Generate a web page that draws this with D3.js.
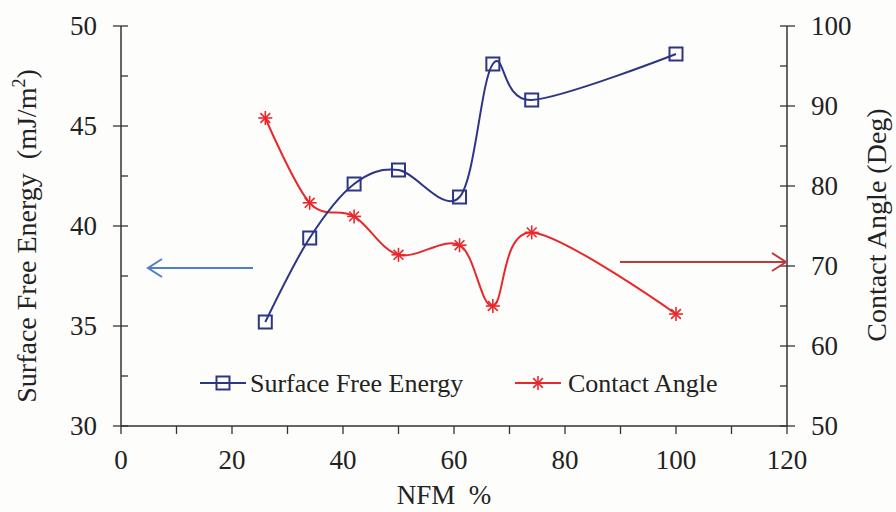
<!DOCTYPE html>
<html>
<head>
<meta charset="utf-8">
<script src="https://cdn.jsdelivr.net/npm/d3@7"></script>
<style>
  body { margin: 0; background: #fdfdfb; }
</style>
</head>
<body>
<script>
// data
var nfm = [26, 34, 42, 50, 61, 67, 74, 100];
var surfaceEnergy = [35.2, 39.4, 42.1, 42.8, 41.45, 48.1, 46.3, 48.6];
var contactAngle = [88.5, 77.9, 76.2, 71.4, 72.6, 65.0, 74.2, 64.0];
var xTicks = [0, 20, 40, 60, 80, 100, 120];
var leftTicks = [30, 35, 40, 45, 50];
var rightTicks = [50, 60, 70, 80, 90, 100];

var width = 896, height = 512;
var margin = {left: 121, right: 109, top: 26, bottom: 86};
var serif = "Liberation Serif";

var svg = d3.select("body")
	.append("svg")
	.attr("width", width)
	.attr("height", height);

svg.append("rect").attr("width", width).attr("height", height).attr("fill", "#fdfdfb");

var x = d3.scaleLinear().domain([0, 120]).range([margin.left, width - margin.right]);
var yL = d3.scaleLinear().domain([30, 50]).range([height - margin.bottom, margin.top]);
var yR = d3.scaleLinear().domain([50, 100]).range([height - margin.bottom, margin.top]);

var axisColor = "#333";
var textColor = "#222";
var x0 = x(0), x1 = x(120), yB = yL(30);

function label(px, py, size, anchor) {
	return svg.append("text").attr("x", px).attr("y", py)
		.attr("font-family", serif).attr("font-size", size)
		.attr("fill", textColor).attr("text-anchor", anchor || "start");
}

// x axis
svg.append("line").attr("x1", x0).attr("x2", x1).attr("y1", yB).attr("y2", yB)
	.attr("stroke", axisColor).attr("stroke-width", 1.5);
d3.range(0, 121, 10).forEach(function(v) {
	svg.append("line").attr("x1", x(v)).attr("x2", x(v))
		.attr("y1", yB).attr("y2", yB + 8)
		.attr("stroke", axisColor).attr("stroke-width", 1.3);
});
xTicks.forEach(function(v) {
	label(x(v), yB + 43, 27, "middle").text(v);
});

// left axis
svg.append("line").attr("x1", x0).attr("x2", x0).attr("y1", yL(50)).attr("y2", yB)
	.attr("stroke", axisColor).attr("stroke-width", 1.5);
d3.range(30, 50.1, 2.5).forEach(function(v) {
	var major = v % 5 === 0;
	svg.append("line").attr("x1", major ? x0 - 8 : x0).attr("x2", x0 + 7)
		.attr("y1", yL(v)).attr("y2", yL(v))
		.attr("stroke", axisColor).attr("stroke-width", 1.3);
});
leftTicks.forEach(function(v) {
	label(x0 - 24, yL(v) + 9, 27, "end").text(v);
});

// right axis
svg.append("line").attr("x1", x1).attr("x2", x1).attr("y1", yR(100)).attr("y2", yB)
	.attr("stroke", axisColor).attr("stroke-width", 1.5);
d3.range(50, 100.1, 5).forEach(function(v) {
	var major = v % 10 === 0;
	svg.append("line").attr("x1", x1 - 7).attr("x2", major ? x1 + 8 : x1)
		.attr("y1", yR(v)).attr("y2", yR(v))
		.attr("stroke", axisColor).attr("stroke-width", 1.3);
});
rightTicks.forEach(function(v) {
	label(x1 + 24, yR(v) + 9, 27, "start").text(v);
});

// axis titles
label(0, 0, 28, "middle").attr("transform", "translate(36,236) rotate(-90)")
	.html("Surface Free Energy&#160;&#160;(mJ/m<tspan dy='-11' font-size='18'>2</tspan><tspan dy='11'>)</tspan>");
label(0, 0, 28, "middle").attr("transform", "translate(886,225) rotate(-90)")
	.text("Contact Angle (Deg)");
label(444, 504, 27, "middle").text("NFM\u00a0\u00a0%");

// series
var sfeColor = "#2d3684", caColor = "#e8282b";
var ptsS = nfm.map(function(d, i) { return [x(d), yL(surfaceEnergy[i])]; });
var ptsC = nfm.map(function(d, i) { return [x(d), yR(contactAngle[i])]; });
var line = d3.line().curve(d3.curveCatmullRom.alpha(0));

svg.append("path").attr("d", line(ptsC)).attr("fill", "none")
	.attr("stroke", caColor).attr("stroke-width", 2);
svg.append("path").attr("d", line(ptsS)).attr("fill", "none")
	.attr("stroke", sfeColor).attr("stroke-width", 2);

function square(g, cx, cy) {
	g.append("rect").attr("x", cx - 6.5).attr("y", cy - 6.5).attr("width", 13).attr("height", 13)
		.attr("fill", "none").attr("stroke", sfeColor).attr("stroke-width", 2);
}
function star(g, cx, cy) {
	var s = 7;
	[[-s, 0, s, 0], [0, -s, 0, s], [-s * 0.7, -s * 0.7, s * 0.7, s * 0.7], [-s * 0.7, s * 0.7, s * 0.7, -s * 0.7]]
		.forEach(function(l) {
			g.append("line").attr("x1", cx + l[0]).attr("y1", cy + l[1])
				.attr("x2", cx + l[2]).attr("y2", cy + l[3])
				.attr("stroke", caColor).attr("stroke-width", 1.6);
		});
}
ptsS.forEach(function(p) { square(svg, p[0], p[1]); });
ptsC.forEach(function(p) { star(svg, p[0], p[1]); });

// legend
var ly = 383;
svg.append("line").attr("x1", 200).attr("x2", 246).attr("y1", ly).attr("y2", ly)
	.attr("stroke", sfeColor).attr("stroke-width", 2);
square(svg, 223, ly);
label(250, ly + 9, 26).text("Surface Free Energy");
svg.append("line").attr("x1", 515).attr("x2", 561).attr("y1", ly).attr("y2", ly)
	.attr("stroke", caColor).attr("stroke-width", 2);
star(svg, 538, ly);
label(568, ly + 9, 26).text("Contact Angle");

// arrows
var blueA = "#4f7fc6", redA = "#c0393d";
svg.append("line").attr("x1", 253).attr("x2", 148).attr("y1", 268).attr("y2", 268)
	.attr("stroke", blueA).attr("stroke-width", 2);
svg.append("path").attr("d", "M162,259 L148,268 L162,277").attr("fill", "none")
	.attr("stroke", blueA).attr("stroke-width", 2);
svg.append("line").attr("x1", 620).attr("x2", 786).attr("y1", 262).attr("y2", 262)
	.attr("stroke", redA).attr("stroke-width", 2);
svg.append("path").attr("d", "M772,253 L786,262 L772,271").attr("fill", "none")
	.attr("stroke", redA).attr("stroke-width", 2);
</script>
</body>
</html>
